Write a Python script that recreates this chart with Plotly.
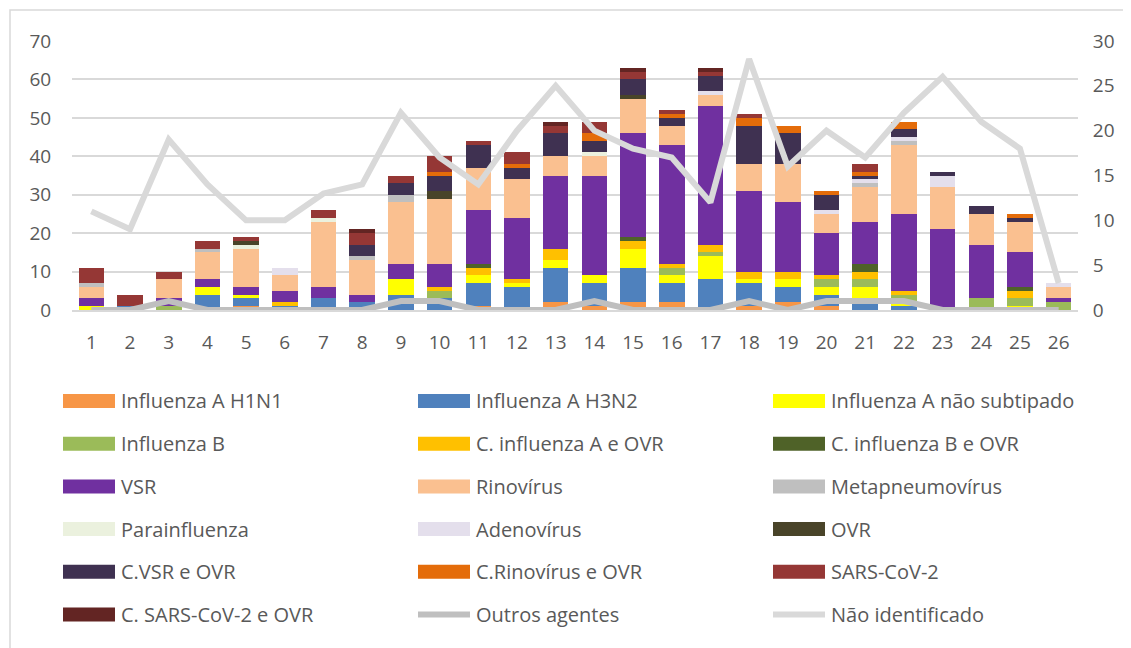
import plotly.graph_objects as go

weeks = [str(i) for i in range(1, 27)]

h1n1 = [0,0,0,0,1,0,0,0,0,0,1,0,2,1,2,2,0,1,2,1,0,0,0,0,0,0]
h3n2 = [0,1,0,4,2,1,3,2,4,3,6,6,9,6,9,5,8,6,4,3,2,1,0,0,0,0]
a_nao_sub = [1,0,0,2,1,0,0,0,4,0,2,1,2,2,5,2,6,1,2,2,4,1,0,0,1,0]
flu_b = [0,0,1,0,0,0,0,0,0,2,0,0,0,0,0,2,1,0,0,2,2,2,0,3,2,2]
c_flu_a_ovr = [0,0,0,0,0,1,0,0,0,1,2,1,3,0,2,1,2,2,2,1,2,1,0,0,2,0]
c_flu_b_ovr = [0,0,0,0,0,0,0,0,0,0,1,0,0,0,1,0,0,0,0,0,2,0,0,0,1,0]
vsr = [2,0,2,2,2,3,3,2,4,6,14,16,19,26,27,31,36,21,18,11,11,20,21,14,9,1]
rino = [3,0,5,7,10,4,17,9,16,17,11,10,5,5,9,5,3,7,10,5,9,18,11,8,8,3]
metapneumo = [1,0,0,1,0,0,0,1,2,0,0,0,0,0,0,0,0,0,0,0,1,1,0,0,0,0]
parainfluenza = [0,0,0,0,1,0,1,0,0,0,0,0,0,1,0,0,0,0,0,0,0,0,0,0,0,0]
adeno = [0,0,0,0,0,2,0,0,0,0,0,0,0,0,0,0,1,0,0,1,1,1,3,0,0,1]
ovr = [0,0,0,0,1,0,0,0,0,2,0,0,0,0,1,0,0,0,0,0,0,0,0,0,0,0]
c_vsr_ovr = [0,0,0,0,0,0,0,3,3,4,6,3,6,3,4,2,4,10,8,4,1,2,1,2,1,0]
c_rino_ovr = [0,0,0,0,0,0,0,0,0,1,0,1,0,2,0,1,0,2,2,1,1,2,0,0,1,0]
sars = [4,3,2,2,1,0,2,3,2,4,1,3,2,3,2,1,1,1,0,0,2,0,0,0,0,0]
c_sars_ovr = [0,0,0,0,0,0,0,1,0,0,0,0,1,0,1,0,1,0,0,0,0,0,0,0,0,0]
outros = [0,0,1,0,0,0,0,0,1,1,0,0,0,1,0,0,0,1,0,1,1,1,0,0,0,0]
nao_ident = [11,9,19,14,10,10,13,14,22,17,14,20,25,20,18,17,12,28,16,20,17,22,26,21,18,3]

bar_series = [
    ("Influenza A H1N1", h1n1, "#F79646"),
    ("Influenza A H3N2", h3n2, "#4F81BD"),
    ("Influenza A não subtipado", a_nao_sub, "#FFFF00"),
    ("Influenza B", flu_b, "#9BBB59"),
    ("C. influenza A e OVR", c_flu_a_ovr, "#FFC000"),
    ("C. influenza B e OVR", c_flu_b_ovr, "#4F6228"),
    ("VSR", vsr, "#7030A0"),
    ("Rinovírus", rino, "#FAC090"),
    ("Metapneumovírus", metapneumo, "#BFBFBF"),
    ("Parainfluenza", parainfluenza, "#EBF1DE"),
    ("Adenovírus", adeno, "#E4DFEC"),
    ("OVR", ovr, "#494429"),
    ("C.VSR e OVR", c_vsr_ovr, "#3F3151"),
    ("C.Rinovírus e OVR", c_rino_ovr, "#E46C0A"),
    ("SARS-CoV-2", sars, "#953735"),
    ("C. SARS-CoV-2 e OVR", c_sars_ovr, "#632523"),
]
line_series = [
    ("Outros agentes", outros, "#BFBFBF"),
    ("Não identificado", nao_ident, "#D9D9D9"),
]

FONT = "Open Sans"
TXT = "#595959"

fig = go.Figure()
for name, vals, col in bar_series:
    fig.add_trace(go.Bar(x=weeks, y=vals, name=name, marker_color=col,
                         marker_line_width=0, showlegend=False))
for name, vals, col in line_series:
    fig.add_trace(go.Scatter(x=weeks, y=vals, name=name, yaxis="y2", mode="lines",
                             line=dict(color=col, width=6), showlegend=False))

# page offset (body margin) and plot-area geometry in figure pixels
OFF = 8
FW, FH = 1123, 640
L, R, T, B = 64, 53, 33, 338
W = FW - L - R
H = FH - T - B

def xp(px):
    return (px - OFF - L) / W

def yp(py):
    return (T + H - (py - OFF)) / H

shapes = []
annotations = []
# outer frame (right/bottom edges fall outside the visible page, as in the reference)
shapes.append(dict(type="rect", xref="paper", yref="paper",
                   x0=xp(10), x1=xp(1140), y0=yp(10), y1=yp(660),
                   line=dict(color="#D9D9D9", width=1.5), fillcolor="rgba(0,0,0,0)", layer="below"))

# legend (3 columns x 6 rows)
col_x = [63, 418, 773]
row_y = [401 + 42.7 * r for r in range(6)]
legend_items = [(n, c, "bar") for n, _, c in bar_series] + [(n, c, "line") for n, _, c in line_series]
for i, (name, col, kind) in enumerate(legend_items):
    cx = col_x[i % 3]
    cy = row_y[i // 3]
    if kind == "bar":
        shapes.append(dict(type="rect", xref="paper", yref="paper",
                           x0=xp(cx), x1=xp(cx + 52), y0=yp(cy + 7), y1=yp(cy - 7),
                           fillcolor=col, line=dict(width=0)))
    else:
        shapes.append(dict(type="line", xref="paper", yref="paper",
                           x0=xp(cx), x1=xp(cx + 52), y0=yp(cy), y1=yp(cy),
                           line=dict(color=col, width=6)))
    annotations.append(dict(text=name, xref="paper", yref="paper", x=xp(cx + 56), y=yp(cy),
                            xanchor="left", yanchor="middle", showarrow=False,
                            font=dict(family=FONT, size=20, color=TXT)))

fig.update_layout(
    barmode="stack",
    bargap=0.34,
    width=FW, height=FH,
    margin=dict(l=L, r=R, t=T, b=B),
    paper_bgcolor="white", plot_bgcolor="white",
    font=dict(family=FONT, size=19, color=TXT),
    showlegend=False,
    xaxis=dict(type="category", showgrid=False, showline=True, linecolor="#D9D9D9", linewidth=1.5,
               ticks="outside", ticklen=14, tickcolor="rgba(0,0,0,0)",
               tickfont=dict(family=FONT, size=19, color=TXT)),
    yaxis=dict(range=[0, 70], dtick=10, showgrid=True, gridcolor="#D9D9D9", gridwidth=1.5,
               zeroline=False, ticks="outside", ticklen=16, tickcolor="rgba(0,0,0,0)",
               tickfont=dict(family=FONT, size=19, color=TXT)),
    yaxis2=dict(range=[0, 30], dtick=5, overlaying="y", side="right", showgrid=False,
                zeroline=False, ticks="outside", ticklen=10, tickcolor="rgba(0,0,0,0)",
                tickfont=dict(family=FONT, size=19, color=TXT)),
    shapes=shapes,
    annotations=annotations,
)

fig.write_html("out.html")
